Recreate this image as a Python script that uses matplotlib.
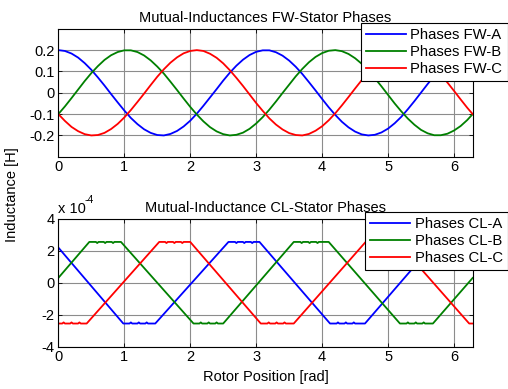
import matplotlib
matplotlib.use("Agg")
import matplotlib.pyplot as plt

plt.rcParams["font.family"] = ["Liberation Sans", "DejaVu Sans"]
plt.rcParams["axes.unicode_minus"] = False

# ---------------------------------------------------------------------------
# Data
# ---------------------------------------------------------------------------

# rotor position samples for the FW panel [rad]
theta_fw = [0.0, 0.1, 0.2, 0.3, 0.4, 0.5, 0.6, 0.7, 0.8, 0.9,
            1.0, 1.1, 1.2, 1.3, 1.4, 1.5, 1.6, 1.7, 1.8, 1.9,
            2.0, 2.1, 2.2, 2.3, 2.4, 2.5, 2.6, 2.7, 2.8, 2.9,
            3.0, 3.1, 3.2, 3.3, 3.4, 3.5, 3.6, 3.7, 3.8, 3.9,
            4.0, 4.1, 4.2, 4.3, 4.4, 4.5, 4.6, 4.7, 4.8, 4.9,
            5.0, 5.1, 5.2, 5.3, 5.4, 5.5, 5.6, 5.7, 5.8, 5.9,
            6.0, 6.1, 6.2, 6.283]

fw_a = [0.200, 0.196, 0.184, 0.165, 0.139, 0.108, 0.072, 0.034, -0.006, -0.045,
        -0.083, -0.118, -0.147, -0.171, -0.188, -0.198, -0.200, -0.193, -0.179, -0.158,
        -0.131, -0.098, -0.061, -0.022, 0.017, 0.057, 0.094, 0.127, 0.155, 0.177,
        0.192, 0.199, 0.199, 0.190, 0.174, 0.151, 0.122, 0.088, 0.050, 0.011,
        -0.029, -0.068, -0.104, -0.136, -0.162, -0.182, -0.195, -0.200, -0.197, -0.186,
        -0.168, -0.143, -0.113, -0.077, -0.039, 0.001, 0.041, 0.079, 0.113, 0.143,
        0.169, 0.187, 0.197, 0.200]

fw_b = [-0.100, -0.064, -0.025, 0.015, 0.055, 0.092, 0.125, 0.154, 0.176, 0.191,
        0.199, 0.199, 0.191, 0.175, 0.152, 0.123, 0.090, 0.052, 0.013, -0.027,
        -0.066, -0.102, -0.134, -0.161, -0.181, -0.194, -0.200, -0.197, -0.187, -0.169,
        -0.144, -0.114, -0.079, -0.041, -0.001, 0.038, 0.077, 0.112, 0.143, 0.168,
        0.186, 0.197, 0.200, 0.195, 0.182, 0.162, 0.136, 0.104, 0.068, 0.030,
        -0.010, -0.050, -0.087, -0.121, -0.150, -0.174, -0.190, -0.199, -0.199, -0.192,
        -0.177, -0.156, -0.128, -0.100]

fw_c = [-0.100, -0.132, -0.160, -0.180, -0.194, -0.200, -0.198, -0.188, -0.170, -0.146,
        -0.116, -0.081, -0.043, -0.004, 0.036, 0.075, 0.110, 0.141, 0.166, 0.185,
        0.196, 0.200, 0.196, 0.183, 0.164, 0.138, 0.106, 0.070, 0.032, -0.008,
        -0.048, -0.085, -0.120, -0.149, -0.172, -0.189, -0.198, -0.200, -0.193, -0.178,
        -0.157, -0.129, -0.096, -0.059, -0.020, 0.020, 0.059, 0.096, 0.129, 0.157,
        0.178, 0.193, 0.199, 0.198, 0.189, 0.173, 0.149, 0.120, 0.086, 0.048,
        0.009, -0.031, -0.070, -0.100]

# CL panel, values in units of 1e-4 H (trapezoids with small ripple on the flats)
theta_cl_a = [0.00, 0.985,
              1.08, 1.10, 1.12, 1.20, 1.22, 1.24, 1.32, 1.34, 1.36, 1.47,
              2.58,
              2.68, 2.70, 2.72, 2.80, 2.82, 2.84, 2.92, 2.94, 2.96, 3.05,
              4.12,
              4.22, 4.24, 4.26, 4.34, 4.36, 4.38, 4.46, 4.48, 4.50, 4.65,
              5.72,
              5.82, 5.84, 5.86, 5.94, 5.96, 5.98, 6.06, 6.08, 6.10, 6.19,
              6.283]
cl_a = [2.20, -2.55,
        -2.55, -2.48, -2.55, -2.55, -2.48, -2.55, -2.55, -2.48, -2.55, -2.55,
        2.55,
        2.55, 2.48, 2.55, 2.55, 2.48, 2.55, 2.55, 2.48, 2.55, 2.55,
        -2.55,
        -2.55, -2.48, -2.55, -2.55, -2.48, -2.55, -2.55, -2.48, -2.55, -2.55,
        2.55,
        2.55, 2.48, 2.55, 2.55, 2.48, 2.55, 2.55, 2.48, 2.55, 2.55,
        2.20]

theta_cl_b = [0.00, 0.47,
              0.57, 0.59, 0.61, 0.69, 0.71, 0.73, 0.81, 0.83, 0.85, 0.95,
              2.05,
              2.14, 2.16, 2.18, 2.26, 2.28, 2.30, 2.38, 2.40, 2.42, 2.50,
              3.57,
              3.67, 3.69, 3.71, 3.79, 3.81, 3.83, 3.91, 3.93, 3.95, 4.10,
              5.18,
              5.28, 5.30, 5.32, 5.40, 5.42, 5.44, 5.52, 5.54, 5.56, 5.68,
              6.283]
cl_b = [0.30, 2.55,
        2.55, 2.48, 2.55, 2.55, 2.48, 2.55, 2.55, 2.48, 2.55, 2.55,
        -2.55,
        -2.55, -2.48, -2.55, -2.55, -2.48, -2.55, -2.55, -2.48, -2.55, -2.55,
        2.55,
        2.55, 2.48, 2.55, 2.55, 2.48, 2.55, 2.55, 2.48, 2.55, 2.55,
        -2.55,
        -2.55, -2.48, -2.55, -2.55, -2.48, -2.55, -2.55, -2.48, -2.55, -2.55,
        0.30]

theta_cl_c = [0.00,
              0.06, 0.08, 0.10, 0.18, 0.20, 0.22, 0.30, 0.32, 0.34, 0.43,
              1.53,
              1.62, 1.64, 1.66, 1.74, 1.76, 1.78, 1.86, 1.88, 1.90, 2.00,
              3.07,
              3.17, 3.19, 3.21, 3.29, 3.31, 3.33, 3.41, 3.43, 3.45, 3.57,
              4.66,
              4.76, 4.78, 4.80, 4.88, 4.90, 4.92, 5.00, 5.02, 5.04, 5.14,
              6.23, 6.283]
cl_c = [-2.55,
        -2.55, -2.48, -2.55, -2.55, -2.48, -2.55, -2.55, -2.48, -2.55, -2.55,
        2.55,
        2.55, 2.48, 2.55, 2.55, 2.48, 2.55, 2.55, 2.48, 2.55, 2.55,
        -2.55,
        -2.55, -2.48, -2.55, -2.55, -2.48, -2.55, -2.55, -2.48, -2.55, -2.55,
        2.55,
        2.55, 2.48, 2.55, 2.55, 2.48, 2.55, 2.55, 2.48, 2.55, 2.55,
        -2.55, -2.55]

x_ticks = [0, 1, 2, 3, 4, 5, 6]
fw_yticks = [-0.2, -0.1, 0.0, 0.1, 0.2]
fw_yticklabels = ["-0.2", "-0.1", "0", "0.1", "0.2"]
cl_yticks = [-4, -2, 0, 2, 4]

fw_labels = ["Phases FW-A", "Phases FW-B", "Phases FW-C"]
cl_labels = ["Phases CL-A", "Phases CL-B", "Phases CL-C"]
colors = ["#0000ff", "#008000", "#ff0000"]

FS = 10.5
X_MAX = 6.2832


def style_axes(ax):
    ax.set_xlim(0, X_MAX)
    ax.set_xticks(x_ticks)
    ax.grid(True, color="#8c8c8c", linewidth=0.8)
    ax.set_axisbelow(True)
    ax.tick_params(direction="in", top=True, right=True, length=3,
                   width=0.6, labelsize=FS, pad=2.5)
    for sp in ax.spines.values():
        sp.set_linewidth(0.8)


fig = plt.figure(figsize=(5.08, 3.89), dpi=100, facecolor="white")
ax1 = fig.add_axes([0.1148, 0.597, 0.8157, 0.329])
ax2 = fig.add_axes([0.1148, 0.1087, 0.8157, 0.329])

# --- top panel -------------------------------------------------------------
for ys, c, lab in zip([fw_a, fw_b, fw_c], colors, fw_labels):
    ax1.plot(theta_fw, ys, color=c, lw=1.3, label=lab)
style_axes(ax1)
ax1.set_ylim(-0.3, 0.3)
ax1.set_yticks(fw_yticks)
ax1.set_yticklabels(fw_yticklabels)
ax1.set_title("Mutual-Inductances FW-Stator Phases", fontsize=FS, pad=5)
leg1 = ax1.legend(loc="upper left", bbox_to_anchor=(0.710, 0.9416),
                  bbox_transform=fig.transFigure, borderaxespad=0,
                  fontsize=FS + 0.2, fancybox=False, framealpha=1,
                  edgecolor="black", handlelength=2.7, handletextpad=0.3,
                  labelspacing=0.2, borderpad=0.35)
leg1.get_frame().set_linewidth(0.8)

# --- bottom panel ----------------------------------------------------------
for xs, ys, c, lab in zip([theta_cl_a, theta_cl_b, theta_cl_c],
                          [cl_a, cl_b, cl_c], colors, cl_labels):
    ax2.plot(xs, ys, color=c, lw=1.3, label=lab)
style_axes(ax2)
ax2.set_ylim(-4, 4)
ax2.set_yticks(cl_yticks)
ax2.set_title("Mutual-Inductance CL-Stator Phases", fontsize=FS, pad=5)
ax2.set_xlabel("Rotor Position [rad]", fontsize=FS, labelpad=4)
ax2.text(0.0, 1.045, "x 10", transform=ax2.transAxes, ha="left",
         va="baseline", fontsize=FS)
ax2.text(0.064, 1.12, "-4", transform=ax2.transAxes, ha="left",
         va="baseline", fontsize=7.5)
leg2 = ax2.legend(loc="upper left", bbox_to_anchor=(0.7185, 0.455),
                  bbox_transform=fig.transFigure, borderaxespad=0,
                  fontsize=FS + 0.2, fancybox=False, framealpha=1,
                  edgecolor="black", handlelength=2.7, handletextpad=0.3,
                  labelspacing=0.2, borderpad=0.35)
leg2.get_frame().set_linewidth(0.8)

fig.text(0.024, 0.5, "Inductance [H]", rotation=90, ha="center",
         va="center", fontsize=FS)

fig.savefig("out.png", dpi=100, facecolor="white")
